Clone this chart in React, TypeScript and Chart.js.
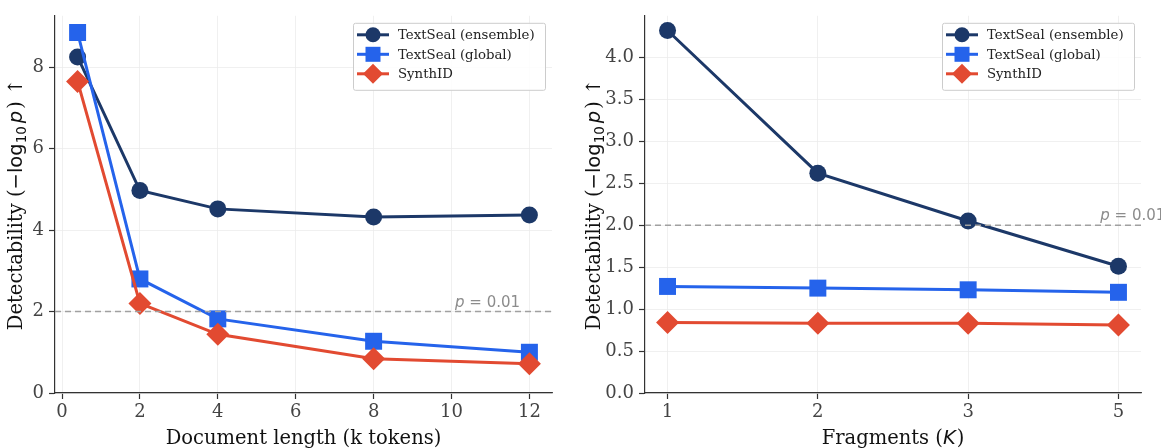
import React, { useEffect, useRef } from "react";
import { Chart, registerables } from "chart.js";

Chart.register(...registerables);

// ---------- data ----------
const seriesNames = ["TextSeal (ensemble)", "TextSeal (global)", "SynthID"];

const lengthK = [0.4, 2, 4, 8, 12];
const lengthEnsemble = [8.25, 4.97, 4.52, 4.32, 4.37];
const lengthGlobal = [8.85, 2.8, 1.82, 1.27, 1.0];
const lengthSynthID = [7.65, 2.2, 1.44, 0.84, 0.72];

const fragmentLabels = ["1", "2", "3", "5"];
const fragEnsemble = [4.32, 2.62, 2.05, 1.51];
const fragGlobal = [1.27, 1.25, 1.23, 1.2];
const fragSynthID = [0.84, 0.83, 0.83, 0.81];

const thresholdValue = 2;
const thresholdText = ["p", " = 0.01"];

// ---------- styles ----------
const COLORS = ["#1c3868", "#2563eb", "#e24a31"];
const STYLES = ["circle", "rect", "rectRot"];
const RADII = [8.5, 12, 11.5];
const SERIF = "'DejaVu Serif', serif";
const SANS = "'DejaVu Sans', sans-serif";

type Seg = { t: string; font: string; dy?: number; gap?: number };

const yTitleSegs: Seg[] = [
  { t: "Detectability (", font: "19.5px " + SERIF },
  { t: "\u2212log", font: "19.5px " + SANS },
  { t: "10", font: "13.5px " + SANS, dy: 4 },
  { t: "p", font: "italic 19.5px " + SANS, gap: 3 },
  { t: ")", font: "19.5px " + SERIF, gap: 2 },
  { t: " \u2191", font: "19.5px " + SERIF },
];
const leftXTitleSegs: Seg[] = [{ t: "Document length (k tokens)", font: "19.5px " + SERIF }];
const rightXTitleSegs: Seg[] = [
  { t: "Fragments (", font: "19.5px " + SERIF },
  { t: "K", font: "italic 19.5px " + SANS },
  { t: ")", font: "19.5px " + SERIF, gap: 1 },
];

function segWidth(ctx: CanvasRenderingContext2D, segs: Seg[]) {
  let w = 0;
  for (const s of segs) {
    ctx.font = s.font;
    w += (s.gap || 0) + ctx.measureText(s.t).width;
  }
  return w;
}
function drawSegs(ctx: CanvasRenderingContext2D, segs: Seg[], x0: number) {
  let x = x0;
  for (const s of segs) {
    ctx.font = s.font;
    x += s.gap || 0;
    ctx.fillText(s.t, x, s.dy || 0);
    x += ctx.measureText(s.t).width;
  }
}

function mkDatasets(series: number[][], xs: number[]) {
  return series.map((vals, i) => ({
    label: seriesNames[i],
    data: vals.map((v, j) => ({ x: xs[j], y: v })),
    borderColor: COLORS[i],
    backgroundColor: COLORS[i],
    pointBackgroundColor: COLORS[i],
    pointBorderColor: COLORS[i],
    pointStyle: STYLES[i],
    pointRadius: RADII[i],
    pointBorderWidth: 0,
    borderWidth: 3,
    clip: false as any,
    order: 3 - i,
  }));
}

const overlayPlugin = {
  id: "overlay",
  afterDatasetsDraw(chart: any, _a: any, opts: any) {
    const ctx = chart.ctx;
    const ca = chart.chartArea;
    const y = chart.scales.y.getPixelForValue(thresholdValue);
    ctx.save();
    ctx.strokeStyle = "#a0a0a0";
    ctx.lineWidth = 1.5;
    ctx.setLineDash([6, 4]);
    ctx.beginPath();
    ctx.moveTo(ca.left, y);
    ctx.lineTo(ca.right, y);
    ctx.stroke();
    ctx.setLineDash([]);
    let tx = ca.left + opts.textFrac * (ca.right - ca.left);
    const ty = y - 5;
    ctx.fillStyle = "#8c8c8c";
    ctx.textBaseline = "alphabetic";
    ctx.textAlign = "left";
    ctx.font = "italic 15px " + SANS;
    ctx.fillText(thresholdText[0], tx, ty);
    tx += ctx.measureText(thresholdText[0]).width;
    ctx.font = "15px " + SANS;
    ctx.fillText(thresholdText[1], tx, ty);
    ctx.restore();
  },
  afterDraw(chart: any, _a: any, opts: any) {
    const ctx = chart.ctx;
    const ca = chart.chartArea;
    // axis titles
    ctx.save();
    ctx.fillStyle = "#111";
    ctx.textAlign = "left";
    ctx.textBaseline = "alphabetic";
    const xs: Seg[] = opts.xTitle;
    const xw = segWidth(ctx, xs);
    ctx.save();
    ctx.translate((ca.left + ca.right) / 2, 444);
    drawSegs(ctx, xs, -xw / 2);
    ctx.restore();
    const yw = segWidth(ctx, yTitleSegs);
    ctx.save();
    ctx.translate(opts.yTitleX, (ca.top + ca.bottom) / 2);
    ctx.rotate(-Math.PI / 2);
    drawSegs(ctx, yTitleSegs, -yw / 2);
    ctx.restore();
    ctx.restore();

    // legend
    const w = 192, h = 67;
    const bx = ca.right - 7 - w;
    const by = ca.top + 7;
    ctx.save();
    ctx.fillStyle = "rgba(255,255,255,0.85)";
    ctx.strokeStyle = "#cccccc";
    ctx.lineWidth = 1;
    ctx.beginPath();
    if ((ctx as any).roundRect) (ctx as any).roundRect(bx + 0.5, by + 0.5, w, h, 2);
    else ctx.rect(bx + 0.5, by + 0.5, w, h);
    ctx.fill();
    ctx.stroke();
    for (let i = 0; i < 3; i++) {
      const ry = by + 12 + i * 19.5;
      const c = COLORS[i];
      ctx.strokeStyle = c;
      ctx.fillStyle = c;
      ctx.lineWidth = 3;
      ctx.beginPath();
      ctx.moveTo(bx + 4, ry);
      ctx.lineTo(bx + 36, ry);
      ctx.stroke();
      const mx = bx + 20;
      ctx.beginPath();
      if (i === 0) {
        ctx.arc(mx, ry, 7.5, 0, Math.PI * 2);
      } else if (i === 1) {
        ctx.rect(mx - 7.5, ry - 7.5, 15, 15);
      } else {
        ctx.moveTo(mx, ry - 10);
        ctx.lineTo(mx + 10, ry);
        ctx.lineTo(mx, ry + 10);
        ctx.lineTo(mx - 10, ry);
        ctx.closePath();
      }
      ctx.fill();
      ctx.fillStyle = "#222";
      ctx.font = "13.3px " + SERIF;
      ctx.textBaseline = "middle";
      ctx.textAlign = "left";
      ctx.fillText(seriesNames[i], bx + 45, ry + 1);
    }
    ctx.restore();
  },
};

function makeOptions(p: {
  xmin: number; xmax: number; xstep: number; xcb: (v: number) => string;
  ymax: number; ystep: number; ycb: (v: number) => string;
  yWidth: number; rightPad: number; xTitle: Seg[]; textFrac: number; yTitleX: number;
}) {
  return {
    responsive: false,
    animation: false as const,
    layout: { padding: { left: 0, right: p.rightPad, top: 5, bottom: 0 } },
    plugins: {
      legend: { display: false },
      tooltip: { enabled: false },
      overlay: { textFrac: p.textFrac, xTitle: p.xTitle, yTitleX: p.yTitleX },
    },
    scales: {
      x: {
        type: "linear" as const,
        min: p.xmin,
        max: p.xmax,
        border: { color: "#333", width: 1.2 },
        grid: { color: "#ececec", lineWidth: 0.8, tickColor: "#333", tickLength: 6, tickWidth: 1.2 },
        ticks: {
          stepSize: p.xstep,
          includeBounds: false,
          color: "#444",
          padding: 3,
          font: { family: SERIF, size: 18 },
          callback: (v: any) => p.xcb(Number(v)),
        },
        title: { display: false },
        afterFit: (s: any) => { s.height = 55; },
      },
      y: {
        type: "linear" as const,
        min: 0,
        max: p.ymax,
        border: { color: "#333", width: 1.2 },
        grid: { color: "#ececec", lineWidth: 0.8, tickColor: "#333", tickLength: 6, tickWidth: 1.2 },
        ticks: {
          stepSize: p.ystep,
          includeBounds: false,
          color: "#444",
          padding: 5,
          font: { family: SERIF, size: 18 },
          callback: (v: any) => p.ycb(Number(v)),
        },
        title: { display: false },
        afterFit: (s: any) => { s.width = p.yWidth; },
      },
    },
  };
}

function Panel({ which, width }: { which: "left" | "right"; width: number }) {
  const ref = useRef<HTMLCanvasElement | null>(null);
  useEffect(() => {
    if (!ref.current) return;
    let cfg: any;
    if (which === "left") {
      cfg = {
        type: "line",
        data: { datasets: mkDatasets([lengthEnsemble, lengthGlobal, lengthSynthID], lengthK) },
        options: makeOptions({
          xmin: -0.18, xmax: 12.58, xstep: 2, xcb: (v) => String(v),
          ymax: 9.26, ystep: 2, ycb: (v) => String(v),
          yWidth: 55, rightPad: 28, xTitle: leftXTitleSegs, textFrac: 0.805, yTitleX: 22,
        }),
        plugins: [overlayPlugin],
      };
    } else {
      const idx = fragmentLabels.map((_, i) => i);
      cfg = {
        type: "line",
        data: { datasets: mkDatasets([fragEnsemble, fragGlobal, fragSynthID], idx) },
        options: makeOptions({
          xmin: -0.15, xmax: 3.15, xstep: 1,
          xcb: (v) => (Number.isInteger(v) && fragmentLabels[v] !== undefined ? fragmentLabels[v] : ""),
          ymax: 4.4955, ystep: 0.5, ycb: (v) => v.toFixed(1),
          yWidth: 65, rightPad: 20, xTitle: rightXTitleSegs, textFrac: 0.918, yTitleX: 19.5,
        }),
        plugins: [overlayPlugin],
      };
    }
    const chart = new Chart(ref.current, cfg);
    return () => chart.destroy();
  }, [which]);
  return <canvas ref={ref} width={width} height={448} style={{ display: "block", width, height: 448 }} />;
}

export default function App() {
  return (
    <div style={{ position: "absolute", left: 0, top: 0, width: 1161, height: 448, background: "#fff", display: "flex" }}>
      <Panel which="left" width={580} />
      <Panel which="right" width={581} />
    </div>
  );
}
